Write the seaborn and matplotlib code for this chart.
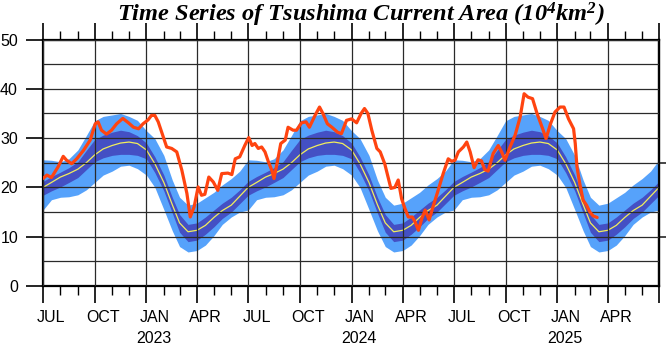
import numpy as np
import pandas as pd
import matplotlib
matplotlib.use("Agg")
import matplotlib.pyplot as plt
import matplotlib.dates as mdates
import matplotlib.transforms as mtransforms
import seaborn as sns

# ---------------------------------------------------------------- data
# Observed Tsushima Current area (10^4 km^2), days counted from 2022-07-01
start = pd.Timestamp("2022-07-01")
obs_day = [0, 7, 15, 27, 36, 42, 51, 60, 72, 84, 93, 98, 104, 113, 122, 131,
           142, 152, 161, 170, 178, 187, 193, 199, 205, 214, 220, 229, 238,
           247, 256, 262, 269, 276, 282, 288, 295, 303, 311, 318, 329, 336,
           342, 350, 359, 366, 372, 377, 383, 389, 395, 401, 407, 411, 417,
           423, 431, 436, 445, 451, 460, 468, 474, 484, 492, 498, 506, 514,
           524, 531, 540, 549, 558, 566, 572, 578, 585, 594, 600, 608, 614,
           619, 626, 632, 638, 644, 650, 657, 662, 668, 674, 680, 687, 694,
           703, 712, 721, 727, 733, 739, 748, 754, 760, 767, 774, 780, 786,
           792, 801, 810, 816, 822, 831, 840, 849, 856, 863, 871, 879, 889,
           895, 903, 911, 920, 927, 935, 944, 947, 950, 955, 961, 967, 973,
           979, 986]
obs_val = [21.8, 22.5, 22.0, 24.2, 26.3, 25.5, 24.8, 25.8, 27.5, 29.6, 32.9,
           33.3, 31.6, 30.8, 31.6, 32.9, 34.0, 33.1, 32.2, 31.9, 32.9, 33.7,
           34.6, 34.6, 33.3, 30.2, 28.2, 27.9, 27.2, 23.5, 18.8, 14.0, 16.1,
           20.1, 18.4, 18.6, 22.1, 21.1, 19.4, 22.8, 22.9, 22.6, 25.8, 26.2,
           28.5, 30.1, 28.5, 28.9, 27.9, 28.2, 27.2, 25.2, 23.5, 21.8, 25.2,
           28.9, 29.6, 32.2, 31.6, 31.6, 33.1, 33.3, 32.2, 34.6, 36.3, 35.0,
           32.9, 32.2, 31.2, 30.9, 33.6, 33.9, 33.1, 35.0, 36.0, 35.0, 31.6,
           27.9, 27.2, 24.8, 22.1, 19.8, 20.0, 21.5, 17.7, 15.7, 14.0, 14.0,
           13.0, 11.3, 13.7, 15.4, 13.4, 16.1, 19.4, 22.8, 25.8, 25.3, 25.5,
           27.2, 28.2, 29.2, 27.2, 24.0, 25.6, 25.4, 23.6, 23.3, 26.9, 28.5,
           27.2, 25.5, 28.2, 30.6, 34.3, 39.0, 38.3, 38.0, 35.0, 31.9, 29.9,
           32.9, 35.3, 36.3, 36.3, 33.9, 31.9, 28.9, 24.2, 20.8, 17.4, 16.4,
           15.0, 14.2, 13.9]

# Climatology on the 1st and 16th of each month, July through June
clim_mean = [20.0, 21.0, 22.1, 22.8, 23.7, 25.0, 26.6, 27.8, 28.5, 29.0, 29.2,
             28.9, 27.6, 24.8, 21.0, 16.5, 12.8, 11.0, 11.3, 12.3, 13.9, 15.3,
             16.4, 18.2]
dark_lo = [18.4, 19.3, 20.1, 21.0, 22.0, 23.6, 25.2, 26.0, 26.5, 26.7, 26.7,
           26.5, 25.8, 23.0, 19.3, 14.8, 10.9, 9.0, 9.3, 10.5, 12.0, 13.7,
           15.0, 16.7]
dark_hi = [21.2, 22.2, 23.1, 24.0, 25.2, 27.5, 29.7, 30.6, 31.2, 31.6, 31.3,
           30.5, 29.0, 26.2, 22.5, 18.0, 14.5, 12.5, 12.8, 14.0, 15.4, 16.8,
           18.0, 19.5]
light_lo = [15.4, 17.5, 18.0, 18.1, 18.5, 19.5, 21.0, 22.5, 23.3, 24.3, 24.5,
            23.8, 22.5, 20.0, 15.5, 11.2, 8.0, 6.9, 7.2, 8.3, 10.2, 12.5,
            14.0, 15.0]
light_hi = [25.6, 25.5, 25.2, 25.8, 27.6, 30.5, 33.5, 34.4, 34.7, 35.0, 34.4,
            33.6, 31.5, 29.9, 26.5, 21.5, 18.0, 16.4, 16.8, 17.9, 19.0, 20.5,
            21.8, 23.3]

month_labels = ["JUL", "OCT", "JAN", "APR"] * 3
year_labels = ["2023", "2024", "2025"]

# ------------------------------------------------------------- series
obs_dates = start + pd.to_timedelta(obs_day, unit="D")

n_years = 3
clim_dates = []
for yr in range(n_years):
    for k in range(12):
        m0 = start + pd.DateOffset(years=yr, months=k)
        clim_dates += [m0, m0 + pd.Timedelta(days=15)]
clim_dates.append(start + pd.DateOffset(years=n_years))
clim_dates = pd.DatetimeIndex(clim_dates)


def periodic(a):
    a = np.asarray(a, dtype=float)
    return np.concatenate([np.tile(a, n_years), a[:1]])


clim = pd.DataFrame({"date": clim_dates, "mean": periodic(clim_mean),
                     "dlo": periodic(dark_lo), "dhi": periodic(dark_hi),
                     "llo": periodic(light_lo), "lhi": periodic(light_hi)})
obs = pd.DataFrame({"date": obs_dates, "area": obs_val})

# ------------------------------------------------------------- figure
sns.set_theme(style="white")
plt.rcParams["font.family"] = ["Liberation Sans", "DejaVu Sans"]
plt.rcParams["mathtext.fontset"] = "custom"
plt.rcParams["mathtext.rm"] = "Liberation Serif:bold:italic"
plt.rcParams["mathtext.it"] = "Liberation Serif:bold:italic"
plt.rcParams["mathtext.bf"] = "Liberation Serif:bold:italic"

W, H = 672, 346
fig = plt.figure(figsize=(W / 100, H / 100), dpi=100)
ax = fig.add_axes([43 / W, 1 - 286 / H, 616 / W, 246.5 / H])

light_c = "#56a2fb"
dark_c = "#4450c4"
ax.fill_between(clim["date"], clim["llo"], clim["lhi"], color=light_c,
                lw=0, zorder=1)
ax.fill_between(clim["date"], clim["dlo"], clim["dhi"], color=dark_c,
                lw=0, zorder=1.2)
sns.lineplot(data=clim, x="date", y="mean", ax=ax, color="#f2ee5c",
             lw=0.9, zorder=1.5)
sns.lineplot(data=obs, x="date", y="area", ax=ax, color="#ff4410",
             lw=2.3, zorder=4)

x0, x1 = start, start + pd.DateOffset(years=n_years)
ax.set_xlim(x0, x1)
ax.set_ylim(0, 50)
ax.set_xlabel("")
ax.set_ylabel("")

# grid: every quarter vertically, every 5 units horizontally
ax.xaxis.set_major_locator(mdates.MonthLocator(bymonth=[1, 4, 7, 10]))
ax.xaxis.set_minor_locator(mdates.MonthLocator())
ax.set_yticks(np.arange(0, 51, 10))
ax.set_yticks(np.arange(5, 50, 10), minor=True)
ax.set_axisbelow(False)
ax.grid(True, which="major", axis="x", color="#2a2a2a", lw=0.9, zorder=3)
ax.grid(True, which="both", axis="y", color="#2a2a2a", lw=0.9, zorder=3)

ax.tick_params(axis="x", which="major", direction="out", length=12,
               width=1.2, color="black", top=True, bottom=True,
               labelbottom=False, labeltop=False)
ax.tick_params(axis="x", which="minor", direction="out", length=6.5,
               width=1.0, color="black", top=True, bottom=True)
ax.tick_params(axis="y", which="major", direction="out", length=12,
               width=1.2, color="black", left=True, right=False,
               labelsize=11.5, pad=6, labelcolor="black")
ax.tick_params(axis="y", which="minor", length=0)
for s in ax.spines.values():
    s.set_color("black")
    s.set_linewidth(1.6)

sec = ax.secondary_yaxis("right")
sec.set_yticks([10, 25])
sec.tick_params(direction="out", length=5, width=1.2, labelright=False)
sec.spines["right"].set_linewidth(1.6)

# month and year labels sit at mid-month under each quarter tick
trans = mtransforms.blended_transform_factory(ax.transData, fig.transFigure)
label_dates = [start + pd.DateOffset(months=3 * i, days=15)
               for i in range(len(month_labels))]
for d, lab in zip(label_dates, month_labels):
    fig.text(mdates.date2num(d), 1 - 317.5 / H, lab, transform=trans,
             ha="center", va="center", fontsize=11.5, color="black")
for i, lab in enumerate(year_labels):
    d = pd.Timestamp(f"{lab}-01-15")
    fig.text(mdates.date2num(d), 1 - 338.5 / H, lab, transform=trans,
             ha="center", va="center", fontsize=11.5, color="black")

fig.text(361 / W, 1 - 15 / H,
         r"Time Series of Tsushima Current Area (10$^{4}$km$^{2}$)",
         ha="center", va="center", fontsize=17.6, family="Liberation Serif",
         weight="bold", style="italic", color="black")

fig.savefig("out.png", dpi=100)
